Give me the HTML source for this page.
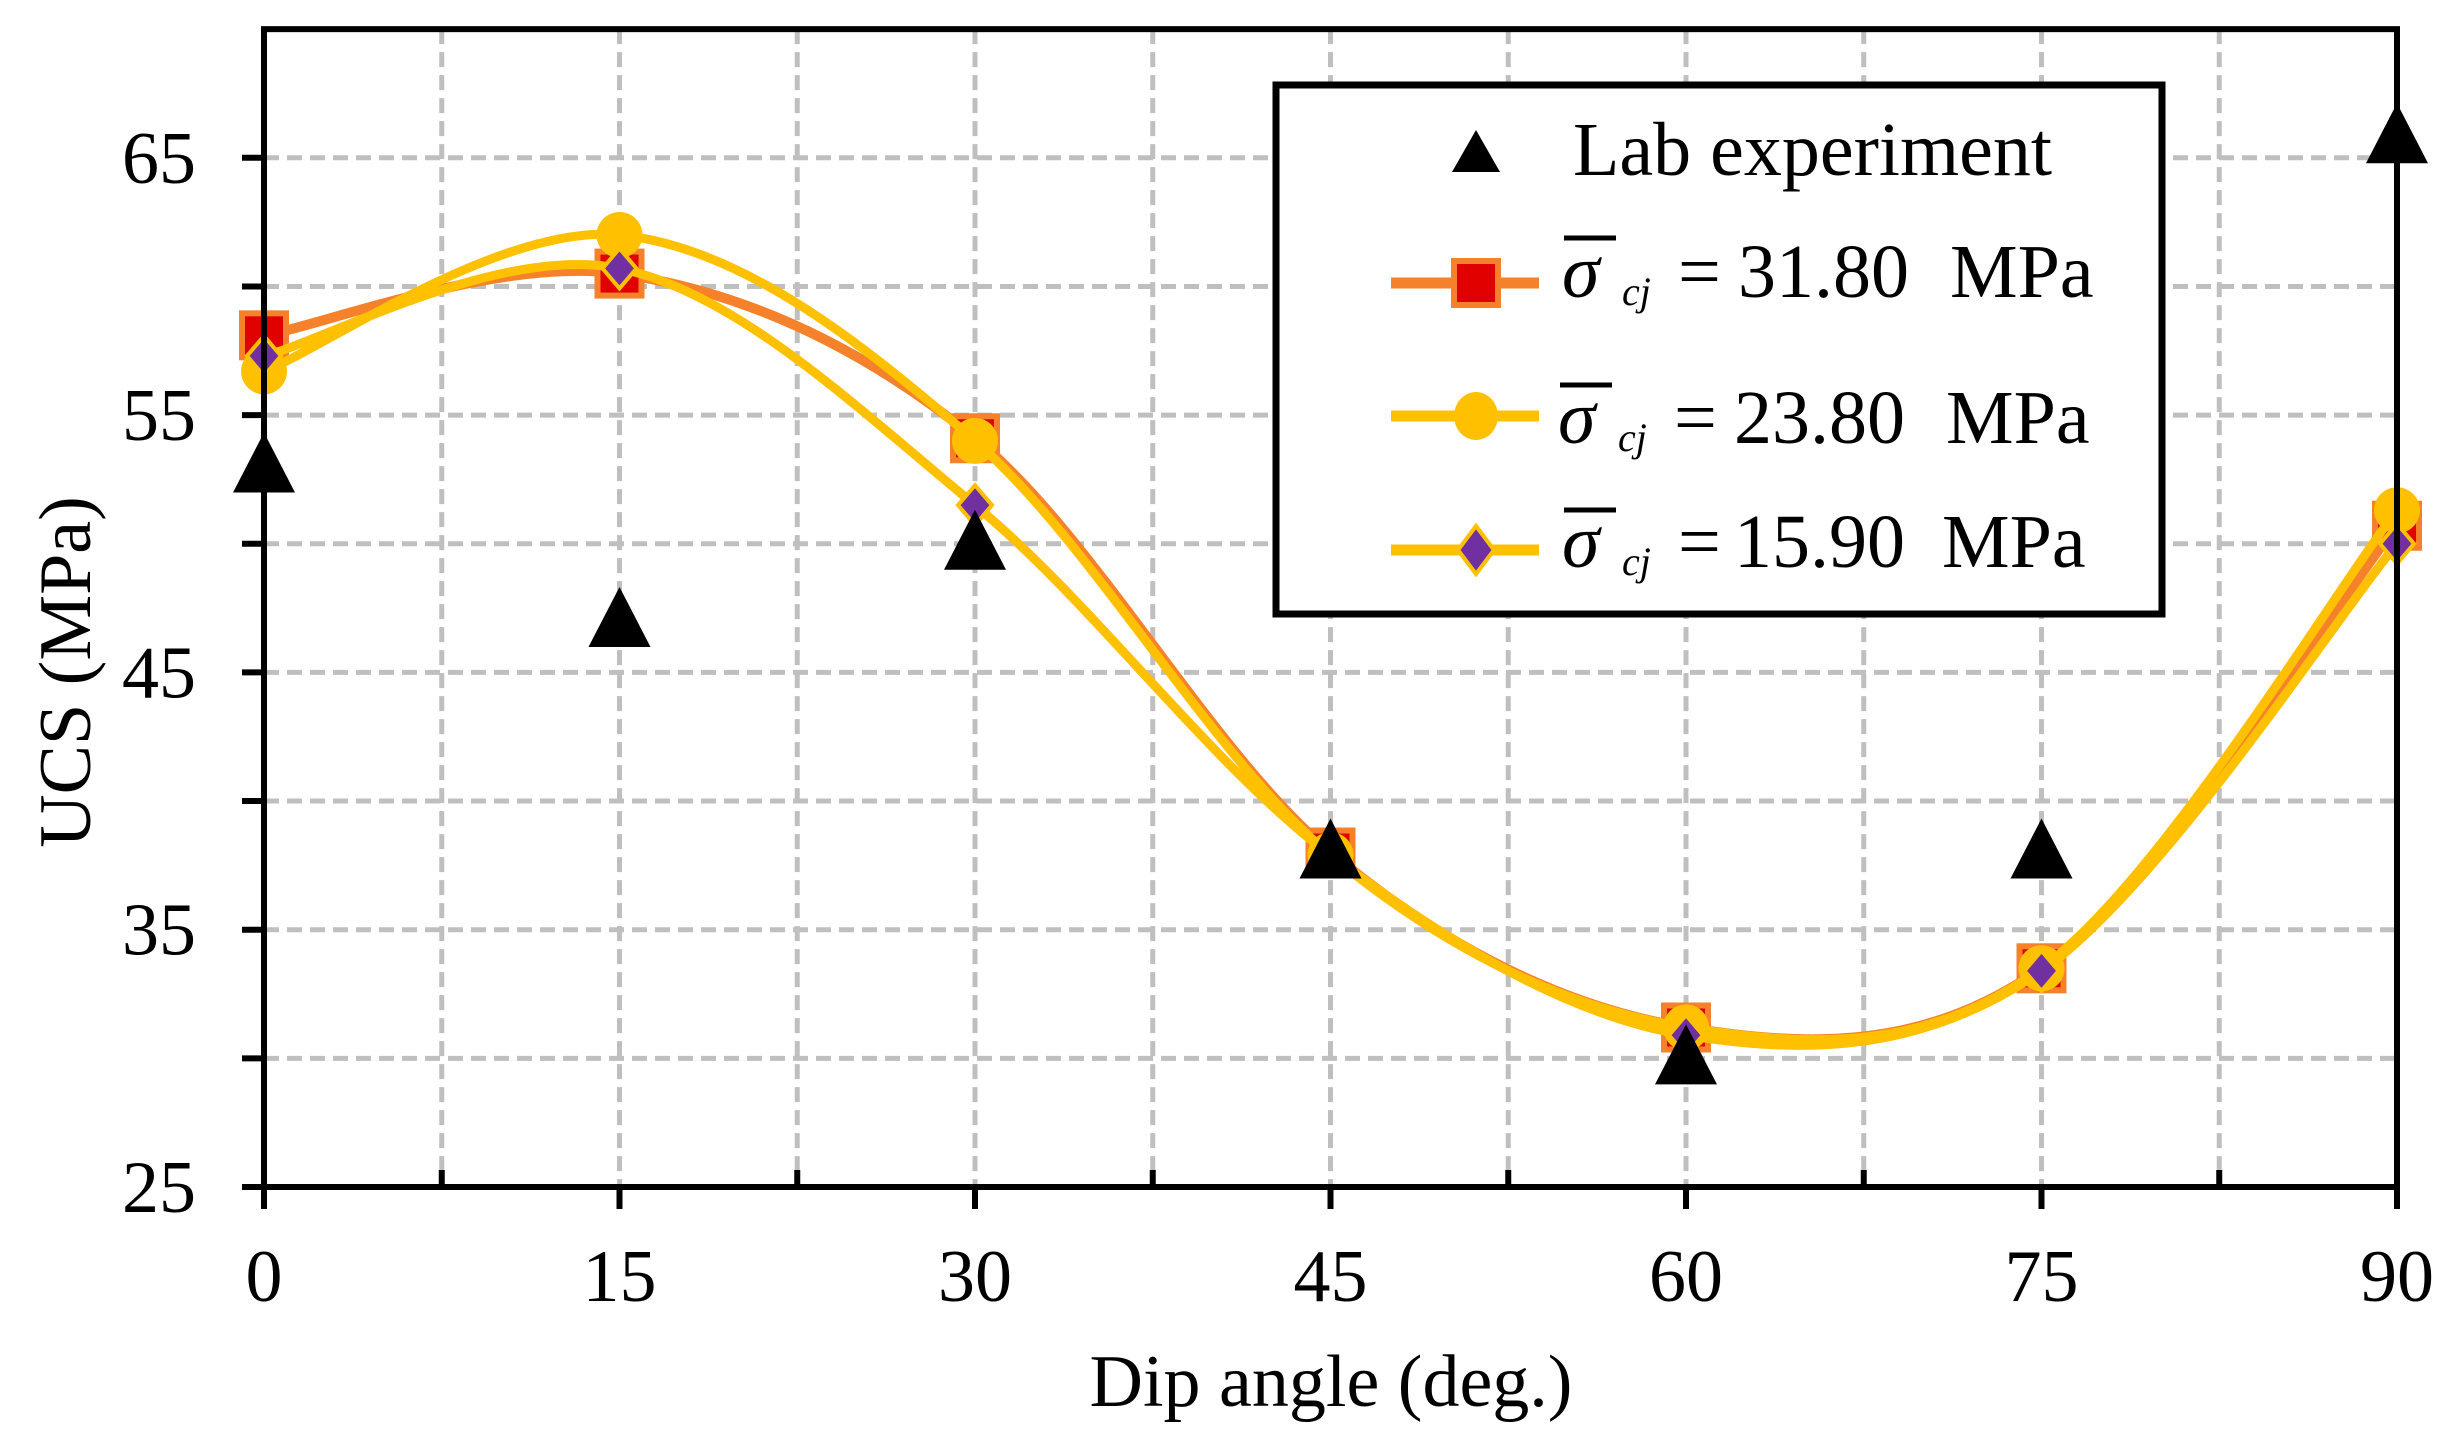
<!DOCTYPE html>
<html><head><meta charset="utf-8"><style>
html,body{margin:0;padding:0;background:#fff}
svg{display:block}
text{font-family:"Liberation Serif",serif;fill:#000}
</style></head><body>
<svg id="s" width="2450" height="1444" viewBox="0 0 2450 1444" xmlns="http://www.w3.org/2000/svg">
<g id="grid" stroke="#BFBFBF" stroke-width="5" stroke-dasharray="15 8"></g>
<g id="series"></g>
<g id="axes" stroke="#000"></g>
<g id="labels" font-size="74"></g>
<text x="1331" y="1406" font-size="74" text-anchor="middle">Dip angle (deg.)</text>
<text transform="translate(90,672) rotate(-90)" font-size="74" text-anchor="middle">UCS (MPa)</text>
<!-- legend -->
<rect x="1276" y="85" width="886" height="529" fill="#fff" stroke="#000" stroke-width="7"/>
<polygon points="1452,172 1476,130 1500,172" fill="#000"/>
<text x="1573" y="175" font-size="76">Lab experiment</text>
<g font-size="76">
 <line x1="1391" y1="283" x2="1539" y2="283" stroke="#F5822A" stroke-width="11"/>
 <rect x="1454" y="261" width="44" height="44" fill="#E00000" stroke="#F5822A" stroke-width="6"/>
 <line x1="1564" y1="238" x2="1616" y2="238" stroke="#000" stroke-width="5"/>
 <text x="1562" y="297" font-style="italic">σ</text><text x="1622" y="305" font-size="40" font-style="italic">cj</text>
 <text x="1678" y="297">=</text><text x="1738" y="297">31.80</text><text x="1950" y="297">MPa</text>

 <line x1="1391" y1="416" x2="1539" y2="416" stroke="#FFC000" stroke-width="11"/>
 <ellipse cx="1476" cy="416" rx="22" ry="24" fill="#FFC000"/>
 <line x1="1560" y1="385" x2="1612" y2="385" stroke="#000" stroke-width="5"/>
 <text x="1558" y="443" font-style="italic">σ</text><text x="1618" y="451" font-size="40" font-style="italic">cj</text>
 <text x="1674" y="443">=</text><text x="1734" y="443">23.80</text><text x="1946" y="443">MPa</text>

 <line x1="1391" y1="550" x2="1539" y2="550" stroke="#FFC000" stroke-width="11"/>
 <polygon points="1476,526 1494,550 1476,574 1458,550" fill="#7030A0" stroke="#FFC000" stroke-width="4"/>
 <line x1="1564" y1="510" x2="1616" y2="510" stroke="#000" stroke-width="5"/>
 <text x="1562" y="567" font-style="italic">σ</text><text x="1622" y="575" font-size="40" font-style="italic">cj</text>
 <text x="1678" y="567">=</text><text x="1734" y="567">15.90</text><text x="1942" y="567">MPa</text>
</g>
</svg>
<script>
var NS="http://www.w3.org/2000/svg";
function el(p,t,a){var e=document.createElementNS(NS,t);for(var k in a)e.setAttribute(k,a[k]);p.appendChild(e);return e;}
var X0=264,X1=2397,Y25=1187,PER=25.73;
function X(d){return X0+(X1-X0)*d/90;}
function Y(v){return Y25-(v-25)*PER;}
var YT=Y(70);
var g=document.getElementById('grid');
for(var i=1;i<=12;i++){var x=X(i*7.5);el(g,'line',{x1:x,y1:YT,x2:x,y2:Y25});}
for(var v=30;v<=70;v+=5){el(g,'line',{x1:X0,y1:Y(v),x2:X1,y2:Y(v)});}
var ax=document.getElementById('axes');
el(ax,'rect',{x:X0,y:YT,width:X1-X0,height:Y25-YT,fill:'none','stroke-width':6});
for(var v=25;v<=65;v+=5){el(ax,'line',{x1:242,y1:Y(v),x2:X0,y2:Y(v),'stroke-width':6});}
for(var i=0;i<=12;i++){var x=X(i*7.5);if(i%2==0)el(ax,'line',{x1:x,y1:Y25,x2:x,y2:1209,'stroke-width':6});else el(ax,'line',{x1:x,y1:1170,x2:x,y2:Y25,'stroke-width':6});}
var lb=document.getElementById('labels');
[25,35,45,55,65].forEach(function(v){var t=el(lb,'text',{x:196,y:Y(v)+25,'text-anchor':'end'});t.textContent=v;});
[0,15,30,45,60,75,90].forEach(function(d){var t=el(lb,'text',{x:X(d),y:1301,'text-anchor':'middle'});t.textContent=d;});
var ds=[0,15,30,45,60,75,90];
var s1=[58.1,60.5,54.1,38,31.2,33.5,50.7];
var s2=[56.7,62,54,37.9,31.2,33.5,51.3];
var s3=[57.3,60.7,51.5,37.9,30.9,33.4,50];
var lab=[53,47,50,38,30,38,65.8];
function path(vals){var p=ds.map(function(d,i){return [X(d),Y(vals[i])];});var s='M'+p[0][0]+','+p[0][1];
for(var i=0;i<p.length-1;i++){var a=p[Math.max(i-1,0)],b=p[i],c=p[i+1],d=p[Math.min(i+2,p.length-1)];
s+=' C'+(b[0]+(c[0]-a[0])/6)+','+(b[1]+(c[1]-a[1])/6)+' '+(c[0]-(d[0]-b[0])/6)+','+(c[1]-(d[1]-b[1])/6)+' '+c[0]+','+c[1];}return s;}
var sg=document.getElementById('series');
el(sg,'path',{d:path(s1),fill:'none',stroke:'#F5822A','stroke-width':10});
ds.forEach(function(d,i){el(sg,'rect',{x:X(d)-22,y:Y(s1[i])-22,width:44,height:44,fill:'#E00000',stroke:'#F5822A','stroke-width':6});});
el(sg,'path',{d:path(s2),fill:'none',stroke:'#FFC000','stroke-width':9});
ds.forEach(function(d,i){el(sg,'circle',{cx:X(d),cy:Y(s2[i]),r:23,fill:'#FFC000'});});
el(sg,'path',{d:path(s3),fill:'none',stroke:'#FFC000','stroke-width':9});
ds.forEach(function(d,i){var x=X(d),y=Y(s3[i]);el(sg,'polygon',{points:(x)+','+(y-20)+' '+(x+17)+','+y+' '+x+','+(y+20)+' '+(x-17)+','+y,fill:'#7030A0',stroke:'#FFC000','stroke-width':4});});
ds.forEach(function(d,i){var x=X(d),y=Y(lab[i]);el(sg,'polygon',{points:(x-31)+','+(y+26)+' '+x+','+(y-34)+' '+(x+31)+','+(y+26),fill:'#000'});});
</script>
</body></html>
